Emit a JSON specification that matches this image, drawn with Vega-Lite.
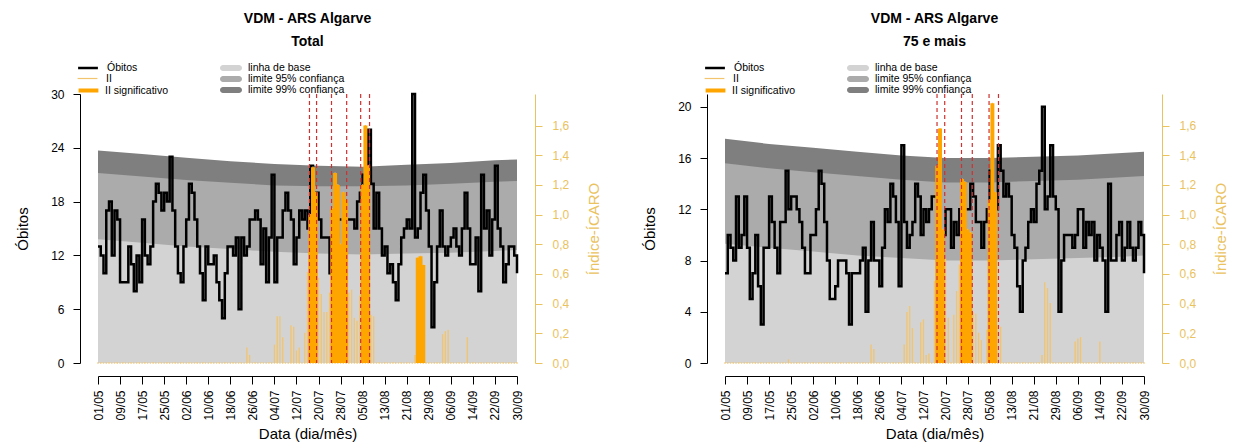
{
  "$schema": "https://vega.github.io/schema/vega-lite/v6.json",
  "background": "white",
  "padding": {"left": 15, "top": 12, "right": 0, "bottom": 0},
  "bounds": "flush",
  "spacing": 208,
  "config": {
    "view": {"stroke": null},
    "font": "Liberation Sans",
    "axis": {"grid": false, "labelFont": "Liberation Sans", "titleFont": "Liberation Sans", "labelFontSize": 12, "titleFontSize": 15, "titleFontWeight": "normal", "domainColor": "#000000", "tickColor": "#000000", "labelColor": "#000000", "titleColor": "#000000", "tickSize": 7, "labelOverlap": false, "labelFlush": false},
    "legend": {"orient": "none", "title": null, "padding": 0, "symbolSize": 121, "labelFont": "Liberation Sans", "labelFontSize": 10.5, "labelColor": "#000000", "labelOffset": 12, "symbolType": "M-1.8,0H1.8", "rowPadding": -2},
    "title": {"font": "Liberation Sans", "fontSize": 14, "fontWeight": "bold", "color": "#000000"}
  },
  "datasets": {
    "diario": [
      {"d":"2013-05-01","o":13,"i":0,"o75":7,"i75":0},
      {"d":"2013-05-02","o":12,"i":0,"o75":10,"i75":0},
      {"d":"2013-05-03","o":10,"i":0,"o75":9,"i75":0},
      {"d":"2013-05-04","o":17,"i":0,"o75":8,"i75":0},
      {"d":"2013-05-05","o":18,"i":0,"o75":13,"i75":0},
      {"d":"2013-05-06","o":12,"i":0,"o75":9,"i75":0},
      {"d":"2013-05-07","o":17,"i":0,"o75":10,"i75":0},
      {"d":"2013-05-08","o":16,"i":0,"o75":13,"i75":0},
      {"d":"2013-05-09","o":9,"i":0,"o75":9,"i75":0},
      {"d":"2013-05-10","o":9,"i":0,"o75":5,"i75":0},
      {"d":"2013-05-11","o":9,"i":0,"o75":7,"i75":0},
      {"d":"2013-05-12","o":13,"i":0,"o75":10,"i75":0},
      {"d":"2013-05-13","o":11,"i":0,"o75":6,"i75":0},
      {"d":"2013-05-14","o":8,"i":0,"o75":3,"i75":0},
      {"d":"2013-05-15","o":12,"i":0,"o75":9,"i75":0},
      {"d":"2013-05-16","o":9,"i":0,"o75":9,"i75":0},
      {"d":"2013-05-17","o":16,"i":0,"o75":13,"i75":0},
      {"d":"2013-05-18","o":12,"i":0,"o75":11,"i75":0},
      {"d":"2013-05-19","o":11,"i":0,"o75":9,"i75":0},
      {"d":"2013-05-20","o":13,"i":0,"o75":7,"i75":0},
      {"d":"2013-05-21","o":18,"i":0,"o75":11,"i75":0},
      {"d":"2013-05-22","o":20,"i":0,"o75":11,"i75":0},
      {"d":"2013-05-23","o":19,"i":0,"o75":15,"i75":0},
      {"d":"2013-05-24","o":17,"i":0,"o75":12,"i75":0.02},
      {"d":"2013-05-25","o":19,"i":0,"o75":13,"i75":0},
      {"d":"2013-05-26","o":18,"i":0,"o75":13,"i75":0},
      {"d":"2013-05-27","o":23,"i":0,"o75":12,"i75":0},
      {"d":"2013-05-28","o":17,"i":0,"o75":11,"i75":0},
      {"d":"2013-05-29","o":13,"i":0,"o75":9,"i75":0},
      {"d":"2013-05-30","o":10,"i":0,"o75":7,"i75":0},
      {"d":"2013-05-31","o":9,"i":0,"o75":7,"i75":0},
      {"d":"2013-06-01","o":13,"i":0,"o75":10,"i75":0},
      {"d":"2013-06-02","o":16,"i":0,"o75":10,"i75":0},
      {"d":"2013-06-03","o":20,"i":0,"o75":12,"i75":0},
      {"d":"2013-06-04","o":19,"i":0,"o75":15,"i75":0},
      {"d":"2013-06-05","o":16,"i":0,"o75":14,"i75":0},
      {"d":"2013-06-06","o":13,"i":0,"o75":11,"i75":0},
      {"d":"2013-06-07","o":10,"i":0,"o75":8,"i75":0},
      {"d":"2013-06-08","o":7,"i":0,"o75":5,"i75":0},
      {"d":"2013-06-09","o":13,"i":0,"o75":5,"i75":0},
      {"d":"2013-06-10","o":11,"i":0,"o75":6,"i75":0},
      {"d":"2013-06-11","o":11,"i":0,"o75":8,"i75":0},
      {"d":"2013-06-12","o":12,"i":0,"o75":8,"i75":0},
      {"d":"2013-06-13","o":9,"i":0,"o75":8,"i75":0},
      {"d":"2013-06-14","o":7,"i":0,"o75":7,"i75":0},
      {"d":"2013-06-15","o":5,"i":0,"o75":3,"i75":0},
      {"d":"2013-06-16","o":10,"i":0,"o75":7,"i75":0},
      {"d":"2013-06-17","o":13,"i":0,"o75":7,"i75":0},
      {"d":"2013-06-18","o":13,"i":0,"o75":7,"i75":0},
      {"d":"2013-06-19","o":12,"i":0,"o75":8,"i75":0},
      {"d":"2013-06-20","o":14,"i":0,"o75":9,"i75":0},
      {"d":"2013-06-21","o":6,"i":0,"o75":4,"i75":0},
      {"d":"2013-06-22","o":14,"i":0,"o75":8,"i75":0},
      {"d":"2013-06-23","o":12,"i":0,"o75":11,"i75":0.12},
      {"d":"2013-06-24","o":13,"i":0.1,"o75":8,"i75":0.09},
      {"d":"2013-06-25","o":16,"i":0.05,"o75":8,"i75":0},
      {"d":"2013-06-26","o":16,"i":0,"o75":6,"i75":0},
      {"d":"2013-06-27","o":17,"i":0,"o75":9,"i75":0},
      {"d":"2013-06-28","o":16,"i":0,"o75":12,"i75":0},
      {"d":"2013-06-29","o":11,"i":0,"o75":11,"i75":0},
      {"d":"2013-06-30","o":15,"i":0,"o75":14,"i75":0},
      {"d":"2013-07-01","o":9,"i":0,"o75":13,"i75":0},
      {"d":"2013-07-02","o":14,"i":0,"o75":11,"i75":0},
      {"d":"2013-07-03","o":21,"i":0,"o75":6,"i75":0},
      {"d":"2013-07-04","o":9,"i":0.12,"o75":17,"i75":0},
      {"d":"2013-07-05","o":14,"i":0.31,"o75":11,"i75":0.12},
      {"d":"2013-07-06","o":14,"i":0.31,"o75":9,"i75":0.34},
      {"d":"2013-07-07","o":17,"i":0.17,"o75":10,"i75":0.38},
      {"d":"2013-07-08","o":19,"i":0,"o75":11,"i75":0.23},
      {"d":"2013-07-09","o":17,"i":0,"o75":14,"i75":0},
      {"d":"2013-07-10","o":16,"i":0.25,"o75":13,"i75":0},
      {"d":"2013-07-11","o":11,"i":0.24,"o75":10,"i75":0.27},
      {"d":"2013-07-12","o":14,"i":0.08,"o75":12,"i75":0.29},
      {"d":"2013-07-13","o":17,"i":0.1,"o75":11,"i75":0.05},
      {"d":"2013-07-14","o":16,"i":0,"o75":12,"i75":0.06},
      {"d":"2013-07-15","o":17,"i":0.2,"o75":13,"i75":0},
      {"d":"2013-07-16","o":15,"i":0.61,"o75":13,"i75":0.55},
      {"d":"2013-07-17","o":22,"i":1.0,"s":1,"o75":11,"i75":1.33,"s75":1},
      {"d":"2013-07-18","o":15,"i":1.32,"s":1,"o75":10,"i75":1.58,"s75":1},
      {"d":"2013-07-19","o":19,"i":1.15,"s":1,"o75":10,"i75":0.9,"s75":1},
      {"d":"2013-07-20","o":16,"i":0.57,"o75":12,"i75":0.7},
      {"d":"2013-07-21","o":14,"i":0.46,"o75":12,"i75":0.3},
      {"d":"2013-07-22","o":14,"i":0.34,"o75":9,"i75":0},
      {"d":"2013-07-23","o":14,"i":0.34,"o75":11,"i75":0.32},
      {"d":"2013-07-24","o":10,"i":0.47,"o75":10,"i75":0.48},
      {"d":"2013-07-25","o":13,"i":1.04,"s":1,"o75":12,"i75":0.66},
      {"d":"2013-07-26","o":14,"i":1.28,"s":1,"o75":14,"i75":1.24,"s75":1},
      {"d":"2013-07-27","o":16,"i":1.2,"s":1,"o75":12,"i75":1.22,"s75":1},
      {"d":"2013-07-28","o":16,"i":0.8,"s":1,"o75":12,"i75":0.9,"s75":1},
      {"d":"2013-07-29","o":18,"i":1.15,"s":1,"o75":14,"i75":0.88,"s75":1},
      {"d":"2013-07-30","o":16,"i":1.1,"s":1,"o75":13,"i75":0.34},
      {"d":"2013-07-31","o":16,"i":0.47,"o75":11,"i75":0.33},
      {"d":"2013-08-01","o":16,"i":0.49,"o75":11,"i75":0.2},
      {"d":"2013-08-02","o":15,"i":0.3,"o75":9,"i75":0.15},
      {"d":"2013-08-03","o":18,"i":0.28,"o75":11,"i75":0},
      {"d":"2013-08-04","o":19,"i":0.45,"o75":12,"i75":0.22},
      {"d":"2013-08-05","o":21,"i":1.2,"s":1,"o75":15,"i75":1.1,"s75":1},
      {"d":"2013-08-06","o":22,"i":1.6,"s":1,"o75":11,"i75":1.75,"s75":1},
      {"d":"2013-08-07","o":26,"i":1.33,"s":1,"o75":12,"i75":1.15,"s75":1},
      {"d":"2013-08-08","o":20,"i":0.32,"o75":17,"i75":0.25},
      {"d":"2013-08-09","o":15,"i":0.31,"o75":15,"i75":0.24},
      {"d":"2013-08-10","o":19,"i":0,"o75":13,"i75":0},
      {"d":"2013-08-11","o":15,"i":0,"o75":14,"i75":0},
      {"d":"2013-08-12","o":12,"i":0,"o75":13,"i75":0},
      {"d":"2013-08-13","o":13,"i":0,"o75":10,"i75":0},
      {"d":"2013-08-14","o":10,"i":0,"o75":9,"i75":0},
      {"d":"2013-08-15","o":11,"i":0,"o75":6,"i75":0},
      {"d":"2013-08-16","o":9,"i":0,"o75":4,"i75":0},
      {"d":"2013-08-17","o":7,"i":0,"o75":8,"i75":0},
      {"d":"2013-08-18","o":11,"i":0,"o75":9,"i75":0},
      {"d":"2013-08-19","o":14,"i":0,"o75":11,"i75":0},
      {"d":"2013-08-20","o":15,"i":0,"o75":12,"i75":0},
      {"d":"2013-08-21","o":16,"i":0,"o75":11,"i75":0},
      {"d":"2013-08-22","o":15,"i":0,"o75":14,"i75":0},
      {"d":"2013-08-23","o":30,"i":0,"o75":15,"i75":0},
      {"d":"2013-08-24","o":14,"i":0.05,"o75":20,"i75":0.05},
      {"d":"2013-08-25","o":15,"i":0.71,"s":1,"o75":12,"i75":0.54},
      {"d":"2013-08-26","o":19,"i":0.72,"s":1,"o75":13,"i75":0.5},
      {"d":"2013-08-27","o":21,"i":0.66,"s":1,"o75":17,"i75":0.4},
      {"d":"2013-08-28","o":17,"i":0,"o75":13,"i75":0},
      {"d":"2013-08-29","o":13,"i":0,"o75":12,"i75":0},
      {"d":"2013-08-30","o":4,"i":0,"o75":4,"i75":0},
      {"d":"2013-08-31","o":9,"i":0,"o75":8,"i75":0},
      {"d":"2013-09-01","o":13,"i":0,"o75":10,"i75":0},
      {"d":"2013-09-02","o":17,"i":0,"o75":10,"i75":0},
      {"d":"2013-09-03","o":13,"i":0.19,"o75":10,"i75":0},
      {"d":"2013-09-04","o":12,"i":0.21,"o75":9,"i75":0},
      {"d":"2013-09-05","o":13,"i":0.22,"o75":10,"i75":0.14},
      {"d":"2013-09-06","o":14,"i":0,"o75":12,"i75":0.16},
      {"d":"2013-09-07","o":15,"i":0,"o75":12,"i75":0.17},
      {"d":"2013-09-08","o":13,"i":0,"o75":9,"i75":0},
      {"d":"2013-09-09","o":12,"i":0,"o75":11,"i75":0},
      {"d":"2013-09-10","o":15,"i":0,"o75":10,"i75":0},
      {"d":"2013-09-11","o":19,"i":0,"o75":11,"i75":0},
      {"d":"2013-09-12","o":15,"i":0.17,"o75":8,"i75":0},
      {"d":"2013-09-13","o":11,"i":0,"o75":10,"i75":0},
      {"d":"2013-09-14","o":11,"i":0,"o75":9,"i75":0.14},
      {"d":"2013-09-15","o":14,"i":0,"o75":8,"i75":0},
      {"d":"2013-09-16","o":8,"i":0,"o75":4,"i75":0},
      {"d":"2013-09-17","o":21,"i":0,"o75":14,"i75":0},
      {"d":"2013-09-18","o":15,"i":0,"o75":8,"i75":0},
      {"d":"2013-09-19","o":17,"i":0,"o75":8,"i75":0},
      {"d":"2013-09-20","o":12,"i":0,"o75":10,"i75":0},
      {"d":"2013-09-21","o":16,"i":0,"o75":11,"i75":0},
      {"d":"2013-09-22","o":22,"i":0,"o75":8,"i75":0},
      {"d":"2013-09-23","o":15,"i":0,"o75":9,"i75":0},
      {"d":"2013-09-24","o":13,"i":0,"o75":11,"i75":0},
      {"d":"2013-09-25","o":9,"i":0,"o75":9,"i75":0},
      {"d":"2013-09-26","o":11,"i":0,"o75":8,"i75":0},
      {"d":"2013-09-27","o":13,"i":0,"o75":9,"i75":0},
      {"d":"2013-09-28","o":13,"i":0,"o75":11,"i75":0},
      {"d":"2013-09-29","o":12,"i":0,"o75":10,"i75":0},
      {"d":"2013-09-30","o":10,"i":0,"o75":7,"i75":0}
    ],
    "bandas": [
      {"d":"2013-05-01","b":13.8,"l95":21.2,"l99":23.7,"b75":9.3,"l95_75":15.6,"l99_75":17.5},
      {"d":"2013-05-17","b":13.4,"l95":20.8,"l99":23.3,"b75":9.0,"l95_75":15.2,"l99_75":17.1},
      {"d":"2013-06-02","b":13.0,"l95":20.4,"l99":22.9,"b75":8.7,"l95_75":14.9,"l99_75":16.8},
      {"d":"2013-06-18","b":12.7,"l95":20.1,"l99":22.5,"b75":8.4,"l95_75":14.6,"l99_75":16.5},
      {"d":"2013-07-04","b":12.4,"l95":19.8,"l99":22.2,"b75":8.2,"l95_75":14.3,"l99_75":16.2},
      {"d":"2013-07-20","b":12.2,"l95":19.7,"l99":22.0,"b75":8.0,"l95_75":14.1,"l99_75":16.0},
      {"d":"2013-08-05","b":12.1,"l95":19.7,"l99":21.9,"b75":8.0,"l95_75":14.1,"l99_75":16.0},
      {"d":"2013-08-21","b":12.2,"l95":19.8,"l99":22.1,"b75":8.1,"l95_75":14.2,"l99_75":16.1},
      {"d":"2013-09-06","b":12.3,"l95":20.0,"l99":22.3,"b75":8.2,"l95_75":14.3,"l99_75":16.2},
      {"d":"2013-09-22","b":12.5,"l95":20.2,"l99":22.6,"b75":8.3,"l95_75":14.5,"l99_75":16.4},
      {"d":"2013-09-30","b":12.6,"l95":20.3,"l99":22.7,"b75":8.4,"l95_75":14.6,"l99_75":16.5}
    ],
    "alertas": [
      {"g":"Total","d":"2013-07-16T17:00:00Z"},
      {"g":"Total","d":"2013-07-19T07:00:00Z"},
      {"g":"Total","d":"2013-07-24T17:00:00Z"},
      {"g":"Total","d":"2013-07-30T05:00:00Z"},
      {"g":"Total","d":"2013-08-04T07:00:00Z"},
      {"g":"Total","d":"2013-08-07T12:00:00Z"},
      {"g":"75","d":"2013-07-16T22:00:00Z"},
      {"g":"75","d":"2013-07-19T17:00:00Z"},
      {"g":"75","d":"2013-07-25T19:00:00Z"},
      {"g":"75","d":"2013-07-29T17:00:00Z"},
      {"g":"75","d":"2013-08-04T19:00:00Z"},
      {"g":"75","d":"2013-08-08T05:00:00Z"}
    ]
  },
  "resolve": {
    "scale": {"color": "independent", "fill": "independent", "stroke": "independent", "strokeDash": "independent"},
    "legend": {"color": "independent", "fill": "independent", "stroke": "independent", "strokeDash": "independent"}
  },
  "hconcat": [
    {
      "width": 419,
      "height": 269,
      "title": {"text": ["VDM - ARS Algarve", "Total"], "anchor": "middle", "frame": "group", "lineHeight": 23, "offset": 12},
      "encoding": {
        "x": {
          "field": "d", "type": "temporal",
          "scale": {"type": "utc", "domain": [{"year": 2013, "month": 5, "date": 1, "utc": true}, {"year": 2013, "month": 9, "date": 30, "utc": true}], "nice": false},
          "axis": {
            "values": [{"year":2013,"month":5,"date":1,"utc":true},{"year":2013,"month":5,"date":9,"utc":true},{"year":2013,"month":5,"date":17,"utc":true},{"year":2013,"month":5,"date":25,"utc":true},{"year":2013,"month":6,"date":2,"utc":true},{"year":2013,"month":6,"date":10,"utc":true},{"year":2013,"month":6,"date":18,"utc":true},{"year":2013,"month":6,"date":26,"utc":true},{"year":2013,"month":7,"date":4,"utc":true},{"year":2013,"month":7,"date":12,"utc":true},{"year":2013,"month":7,"date":20,"utc":true},{"year":2013,"month":7,"date":28,"utc":true},{"year":2013,"month":8,"date":5,"utc":true},{"year":2013,"month":8,"date":13,"utc":true},{"year":2013,"month":8,"date":21,"utc":true},{"year":2013,"month":8,"date":29,"utc":true},{"year":2013,"month":9,"date":6,"utc":true},{"year":2013,"month":9,"date":14,"utc":true},{"year":2013,"month":9,"date":22,"utc":true},{"year":2013,"month":9,"date":30,"utc":true}],
            "labelExpr": "utcFormat(datum.value, '%d/%m')",
            "labelAngle": 270, "labelAlign": "right", "labelBaseline": "middle",
            "offset": 13, "tickSize": 8, "labelPadding": 6,
            "title": "Data (dia/mês)", "titlePadding": 6
          }
        }
      },
      "layer": [
        {
          "layer": [
            {
              "data": {"name": "bandas"},
              "mark": {"type": "area", "opacity": 1},
              "encoding": {
                "y": {"field": "l99", "type": "quantitative", "scale": {"domain": [0, 30], "nice": false},
                      "axis": {"orient": "left", "offset": 18, "values": [0, 6, 12, 18, 24, 30], "title": "Óbitos", "labelPadding": 9, "titlePadding": 20}},
                "fill": {
                  "datum": "limite 99% confiança", "type": "nominal",
                  "scale": {"domain": ["linha de base", "limite 95% confiança", "limite 99% confiança"], "range": ["#D3D3D3", "#ABABAB", "#7F7F7F"]},
                  "legend": {"legendX": 127.5, "legendY": -31.5, "labelOffset": 11.5, "symbolStrokeWidth": 0, "symbolType": "M-1.455,-0.545H1.455A0.545,0.545 0 0 1 1.455,0.545H-1.455A0.545,0.545 0 0 1 -1.455,-0.545Z"}
                }
              }
            },
            {
              "data": {"name": "bandas"},
              "mark": {"type": "area", "opacity": 1},
              "encoding": {
                "y": {"field": "l95", "type": "quantitative",
                      "axis": {"orient": "left", "offset": 18, "values": [0, 6, 12, 18, 24, 30], "title": "Óbitos", "labelPadding": 9, "titlePadding": 20}},
                "fill": {"datum": "limite 95% confiança", "type": "nominal"}
              }
            },
            {
              "data": {"name": "bandas"},
              "mark": {"type": "area", "opacity": 1},
              "encoding": {
                "y": {"field": "b", "type": "quantitative",
                      "axis": {"orient": "left", "offset": 18, "values": [0, 6, 12, 18, 24, 30], "title": "Óbitos", "labelPadding": 9, "titlePadding": 20}},
                "fill": {"datum": "linha de base", "type": "nominal"}
              }
            },
            {
              "data": {"name": "diario"},
              "mark": {"type": "line", "interpolate": "step-after", "strokeWidth": 2.5},
              "encoding": {
                "y": {"field": "o", "type": "quantitative",
                      "axis": {"orient": "left", "offset": 18, "values": [0, 6, 12, 18, 24, 30], "title": "Óbitos", "labelPadding": 9, "titlePadding": 20}},
                "stroke": {"datum": "Óbitos", "type": "nominal", "scale": {"domain": ["Óbitos"], "range": ["#000000"]},
                  "legend": {"legendX": -17, "legendY": -33, "symbolStrokeWidth": 2.5}}
              }
            }
          ]
        },
        {
          "data": {"name": "diario"},
          "layer": [
            {
              "mark": {"type": "rule", "strokeCap": "square", "strokeWidth": 1.3},
              "encoding": {
                "y": {"field": "i", "type": "quantitative", "scale": {"domain": [0, 1.813], "nice": false},
                      "axis": {"orient": "right", "offset": 18, "values": [0, 0.2, 0.4, 0.6, 0.8, 1, 1.2, 1.4, 1.6], "labelExpr": "replace(format(datum.value, '.1f'), '.', ',')", "title": "Índice-ÍCARO", "titleAngle": 270, "labelPadding": 10, "titlePadding": 33, "domainColor": "#EAC25E", "tickColor": "#EAC25E", "labelColor": "#EAC25E", "titleColor": "#EAC25E"}},
                "y2": {"datum": 0},
                "color": {"datum": "II", "type": "nominal", "scale": {"domain": ["II"], "range": ["#F2C46D"]},
                  "legend": {"legendX": -17, "legendY": -22, "symbolStrokeWidth": 1.2}}
              }
            },
            {
              "transform": [{"filter": "datum.s == 1"}],
              "mark": {"type": "rule", "color": "#FFA500", "strokeWidth": 4},
              "encoding": {
                "y": {"field": "i", "type": "quantitative",
                      "axis": {"orient": "right", "offset": 18, "values": [0, 0.2, 0.4, 0.6, 0.8, 1, 1.2, 1.4, 1.6], "labelExpr": "replace(format(datum.value, '.1f'), '.', ',')", "title": "Índice-ÍCARO", "titleAngle": 270, "labelPadding": 10, "titlePadding": 33, "domainColor": "#EAC25E", "tickColor": "#EAC25E", "labelColor": "#EAC25E", "titleColor": "#EAC25E"}},
                "y2": {"datum": 0},
                "strokeDash": {"datum": "II significativo", "type": "nominal", "scale": {"domain": ["II significativo"], "range": [[1, 0]]},
                  "legend": {"legendX": -17, "legendY": -11, "labelOffset": 9, "symbolStrokeWidth": 4, "symbolStrokeColor": "#FFA500"}}
              }
            }
          ]
        },
        {
          "data": {"name": "alertas"},
          "transform": [{"filter": "datum.g == 'Total'"}],
          "mark": {"type": "rule", "color": "#D03030", "strokeDash": [4, 3], "strokeWidth": 1.2},
          "encoding": {}
        }
      ],
      "resolve": {"scale": {"y": "independent"}}
    },
    {
      "width": 419,
      "height": 269,
      "title": {"text": ["VDM - ARS Algarve", "75 e mais"], "anchor": "middle", "frame": "group", "lineHeight": 23, "offset": 12},
      "encoding": {
        "x": {
          "field": "d", "type": "temporal",
          "scale": {"type": "utc", "domain": [{"year": 2013, "month": 5, "date": 1, "utc": true}, {"year": 2013, "month": 9, "date": 30, "utc": true}], "nice": false},
          "axis": {
            "values": [{"year":2013,"month":5,"date":1,"utc":true},{"year":2013,"month":5,"date":9,"utc":true},{"year":2013,"month":5,"date":17,"utc":true},{"year":2013,"month":5,"date":25,"utc":true},{"year":2013,"month":6,"date":2,"utc":true},{"year":2013,"month":6,"date":10,"utc":true},{"year":2013,"month":6,"date":18,"utc":true},{"year":2013,"month":6,"date":26,"utc":true},{"year":2013,"month":7,"date":4,"utc":true},{"year":2013,"month":7,"date":12,"utc":true},{"year":2013,"month":7,"date":20,"utc":true},{"year":2013,"month":7,"date":28,"utc":true},{"year":2013,"month":8,"date":5,"utc":true},{"year":2013,"month":8,"date":13,"utc":true},{"year":2013,"month":8,"date":21,"utc":true},{"year":2013,"month":8,"date":29,"utc":true},{"year":2013,"month":9,"date":6,"utc":true},{"year":2013,"month":9,"date":14,"utc":true},{"year":2013,"month":9,"date":22,"utc":true},{"year":2013,"month":9,"date":30,"utc":true}],
            "labelExpr": "utcFormat(datum.value, '%d/%m')",
            "labelAngle": 270, "labelAlign": "right", "labelBaseline": "middle",
            "offset": 13, "tickSize": 8, "labelPadding": 6,
            "title": "Data (dia/mês)", "titlePadding": 6
          }
        }
      },
      "layer": [
        {
          "layer": [
            {
              "data": {"name": "bandas"},
              "mark": {"type": "area", "opacity": 1},
              "encoding": {
                "y": {"field": "l99_75", "type": "quantitative", "scale": {"domain": [0, 21], "nice": false},
                      "axis": {"orient": "left", "offset": 18, "values": [0, 4, 8, 12, 16, 20], "title": "Óbitos", "labelPadding": 9, "titlePadding": 20}},
                "fill": {
                  "datum": "limite 99% confiança", "type": "nominal",
                  "scale": {"domain": ["linha de base", "limite 95% confiança", "limite 99% confiança"], "range": ["#D3D3D3", "#ABABAB", "#7F7F7F"]},
                  "legend": {"legendX": 127.5, "legendY": -31.5, "labelOffset": 11.5, "symbolStrokeWidth": 0, "symbolType": "M-1.455,-0.545H1.455A0.545,0.545 0 0 1 1.455,0.545H-1.455A0.545,0.545 0 0 1 -1.455,-0.545Z"}
                }
              }
            },
            {
              "data": {"name": "bandas"},
              "mark": {"type": "area", "opacity": 1},
              "encoding": {
                "y": {"field": "l95_75", "type": "quantitative",
                      "axis": {"orient": "left", "offset": 18, "values": [0, 4, 8, 12, 16, 20], "title": "Óbitos", "labelPadding": 9, "titlePadding": 20}},
                "fill": {"datum": "limite 95% confiança", "type": "nominal"}
              }
            },
            {
              "data": {"name": "bandas"},
              "mark": {"type": "area", "opacity": 1},
              "encoding": {
                "y": {"field": "b75", "type": "quantitative",
                      "axis": {"orient": "left", "offset": 18, "values": [0, 4, 8, 12, 16, 20], "title": "Óbitos", "labelPadding": 9, "titlePadding": 20}},
                "fill": {"datum": "linha de base", "type": "nominal"}
              }
            },
            {
              "data": {"name": "diario"},
              "mark": {"type": "line", "interpolate": "step-after", "strokeWidth": 2.5},
              "encoding": {
                "y": {"field": "o75", "type": "quantitative",
                      "axis": {"orient": "left", "offset": 18, "values": [0, 4, 8, 12, 16, 20], "title": "Óbitos", "labelPadding": 9, "titlePadding": 20}},
                "stroke": {"datum": "Óbitos", "type": "nominal", "scale": {"domain": ["Óbitos"], "range": ["#000000"]},
                  "legend": {"legendX": -17, "legendY": -33, "symbolStrokeWidth": 2.5}}
              }
            }
          ]
        },
        {
          "data": {"name": "diario"},
          "layer": [
            {
              "mark": {"type": "rule", "strokeCap": "square", "strokeWidth": 1.3},
              "encoding": {
                "y": {"field": "i75", "type": "quantitative", "scale": {"domain": [0, 1.813], "nice": false},
                      "axis": {"orient": "right", "offset": 18, "values": [0, 0.2, 0.4, 0.6, 0.8, 1, 1.2, 1.4, 1.6], "labelExpr": "replace(format(datum.value, '.1f'), '.', ',')", "title": "Índice-ÍCARO", "titleAngle": 270, "labelPadding": 10, "titlePadding": 33, "domainColor": "#EAC25E", "tickColor": "#EAC25E", "labelColor": "#EAC25E", "titleColor": "#EAC25E"}},
                "y2": {"datum": 0},
                "color": {"datum": "II", "type": "nominal", "scale": {"domain": ["II"], "range": ["#F2C46D"]},
                  "legend": {"legendX": -17, "legendY": -22, "symbolStrokeWidth": 1.2}}
              }
            },
            {
              "transform": [{"filter": "datum.s75 == 1"}],
              "mark": {"type": "rule", "color": "#FFA500", "strokeWidth": 4},
              "encoding": {
                "y": {"field": "i75", "type": "quantitative",
                      "axis": {"orient": "right", "offset": 18, "values": [0, 0.2, 0.4, 0.6, 0.8, 1, 1.2, 1.4, 1.6], "labelExpr": "replace(format(datum.value, '.1f'), '.', ',')", "title": "Índice-ÍCARO", "titleAngle": 270, "labelPadding": 10, "titlePadding": 33, "domainColor": "#EAC25E", "tickColor": "#EAC25E", "labelColor": "#EAC25E", "titleColor": "#EAC25E"}},
                "y2": {"datum": 0},
                "strokeDash": {"datum": "II significativo", "type": "nominal", "scale": {"domain": ["II significativo"], "range": [[1, 0]]},
                  "legend": {"legendX": -17, "legendY": -11, "labelOffset": 9, "symbolStrokeWidth": 4, "symbolStrokeColor": "#FFA500"}}
              }
            }
          ]
        },
        {
          "data": {"name": "alertas"},
          "transform": [{"filter": "datum.g == '75'"}],
          "mark": {"type": "rule", "color": "#D03030", "strokeDash": [4, 3], "strokeWidth": 1.2},
          "encoding": {}
        }
      ],
      "resolve": {"scale": {"y": "independent"}}
    }
  ]
}
